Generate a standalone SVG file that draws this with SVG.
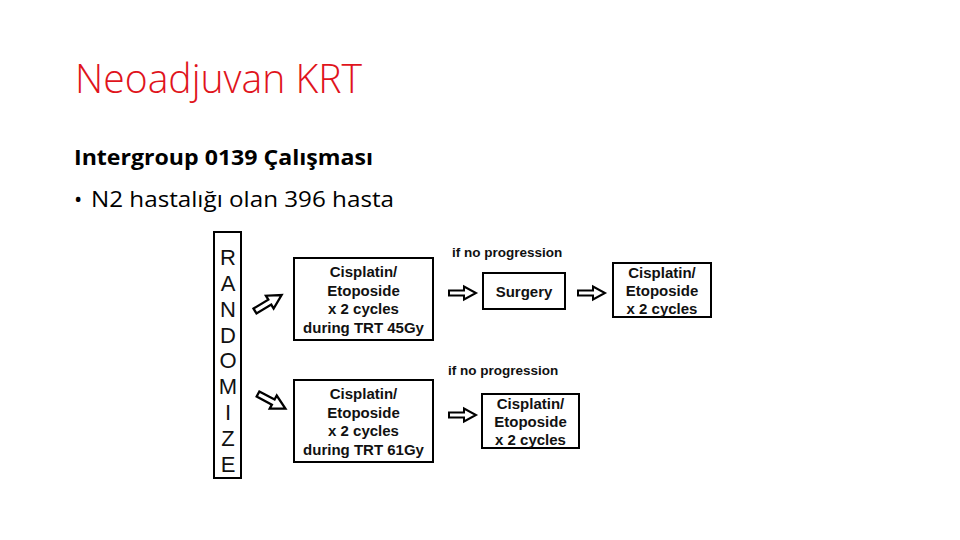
<svg xmlns="http://www.w3.org/2000/svg" xmlns:xlink="http://www.w3.org/1999/xlink" width="960" height="540" viewBox="0 0 960 540">
<style>
.title{font-family:"Open Sans","Liberation Sans",sans-serif;font-size:40px;fill:#E0141C;font-weight:300}
.h{font-family:"Open Sans","Liberation Sans",sans-serif;font-size:22px;font-weight:bold;fill:#000}
.b{font-family:"Open Sans","Liberation Sans",sans-serif;font-size:22px;fill:#000}
.box{fill:#fff;stroke:#000;stroke-width:2}
.t{font-family:"Liberation Sans",Arial,sans-serif;font-size:15px;font-weight:bold;fill:#111;text-anchor:middle}
.s{font-family:"Liberation Sans",Arial,sans-serif;font-size:13.5px;font-weight:bold;fill:#111}
.r{font-family:"Liberation Sans",Arial,sans-serif;font-size:22px;fill:#111;text-anchor:middle}
.arr{fill:#fff;stroke:#000;stroke-width:2;stroke-linejoin:miter}
</style>
<defs>
<path id="blk" class="arr" d="M0,-2.5 H15 V-6.5 L27,0 L15,6.5 V2.5 H0 Z"/>
</defs>
<rect width="960" height="540" fill="#fff"/>
<text class="title" x="75" y="93" textLength="287" lengthAdjust="spacingAndGlyphs">Neoadjuvan KRT</text>
<text class="h" x="74" y="165" textLength="299" lengthAdjust="spacingAndGlyphs">Intergroup 0139 Çalışması</text>
<text class="b" x="74" y="207">•</text>
<text class="b" x="91" y="207" textLength="303" lengthAdjust="spacingAndGlyphs">N2 hastalığı olan 396 hasta</text>

<g id="randomize">
<rect class="box" x="214" y="232" width="27" height="246"/>
<text class="r" x="228" y="265">R</text>
<text class="r" x="228" y="291">A</text>
<text class="r" x="228" y="317">N</text>
<text class="r" x="228" y="343">D</text>
<text class="r" x="228" y="368">O</text>
<text class="r" x="228" y="394">M</text>
<text class="r" x="228" y="420">I</text>
<text class="r" x="228" y="446">Z</text>
<text class="r" x="228" y="472">E</text>
</g>
<g id="arm45">
<rect class="box" x="294" y="258" width="139" height="82"/>
<text class="t" x="363.5" y="277">Cisplatin/</text>
<text class="t" x="363.5" y="295.5">Etoposide</text>
<text class="t" x="363.5" y="314">x 2 cycles</text>
<text class="t" x="363.5" y="332.5">during TRT 45Gy</text>
</g>
<g id="arm61">
<rect class="box" x="294" y="380" width="139" height="82"/>
<text class="t" x="363.5" y="399">Cisplatin/</text>
<text class="t" x="363.5" y="417.5">Etoposide</text>
<text class="t" x="363.5" y="436">x 2 cycles</text>
<text class="t" x="363.5" y="454.5">during TRT 61Gy</text>
</g>
<g id="surgery">
<rect class="box" x="483" y="273" width="82" height="36"/>
<text class="t" x="524" y="296.5">Surgery</text>
</g>
<g id="chemo-top">
<rect class="box" x="613" y="263" width="98" height="54"/>
<text class="t" x="662" y="277.5">Cisplatin/</text>
<text class="t" x="662" y="296">Etoposide</text>
<text class="t" x="662" y="314">x 2 cycles</text>
</g>
<g id="chemo-bottom">
<rect class="box" x="482" y="394" width="97" height="54"/>
<text class="t" x="530.5" y="408.5">Cisplatin/</text>
<text class="t" x="530.5" y="427">Etoposide</text>
<text class="t" x="530.5" y="445">x 2 cycles</text>
</g>
<g id="labels">
<text class="s" x="452" y="256.5">if no progression</text>
<text class="s" x="448" y="374.5">if no progression</text>
</g>
<g id="connectors">
<use xlink:href="#blk" transform="translate(255,311) rotate(-31) scale(1.15)"/>
<use xlink:href="#blk" transform="translate(258,394) rotate(28) scale(1.15)"/>
<use xlink:href="#blk" transform="translate(449,293)"/>
<use xlink:href="#blk" transform="translate(578,293)"/>
<use xlink:href="#blk" transform="translate(449,415)"/>
</g>
</svg>
